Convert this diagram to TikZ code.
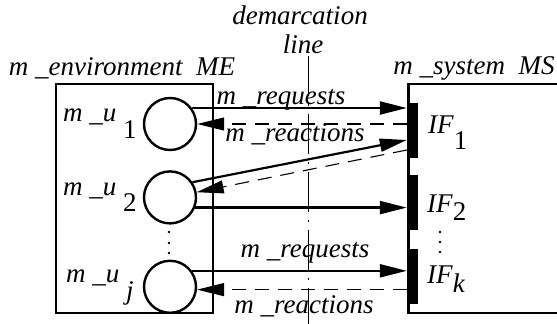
\documentclass[tikz,border=0pt]{standalone}
\usepackage{fontspec}
\setmainfont{Liberation Serif}
\usetikzlibrary{positioning}
\usetikzlibrary{arrows.meta}

\newcommand{\lowsub}[2][15pt]{\raisebox{-#1}{#2}}

\begin{document}
\begin{tikzpicture}[
    x=1pt, y=-1pt,
    font=\fontsize{27}{31}\selectfont\itshape,
    lbl/.style={inner sep=0pt, anchor=base},
    lblw/.style={inner sep=0pt, anchor=base west},
    unit/.style={circle, draw, line width=2.4pt, minimum size=52pt, inner sep=0pt},
    ifbar/.style={rectangle, fill=black, minimum width=11pt, minimum height=55pt, inner sep=0pt},
    boxline/.style={line width=2.8pt},
    req/.style={-{Triangle[length=27pt, width=13pt]}, line width=2.2pt},
    rea/.style={-{Triangle[length=27pt, width=13pt]}, line width=1.1pt, dash pattern=on 14pt off 9pt},
    demarc/.style={line width=0.9pt, dash pattern=on 40pt off 8pt on 2pt off 8pt}
]
\useasboundingbox (0,0) rectangle (557,324);

% Environment
\node[boxline, draw, minimum width=157pt, minimum height=229pt, inner sep=0pt] (me) at (134.5,198.5) {};
\node[lbl] (metitle) at (122,75) {m \_environment\ \ ME};

\node[unit] (u1) at (170,124) {};
\node[unit, below=19pt of u1] (u2) {};
\node[unit, below=35pt of u2] (uj) {};

\node[lblw] (lu1) at (63,121) {m \_u \lowsub[17pt]{\upshape 1}};
\node[lblw] (lu2) at (63,195) {m \_u \lowsub[16pt]{\upshape 2}};
\node[lblw] (luj) at (66,282) {m \_u \lowsub[17pt]{j}};
\foreach \k in {232,243,253}
    \fill (169,\k) circle (1.3pt);

% System
\coordinate (mstop) at (557,84);
\coordinate (mscorner) at (408.5,313);
\coordinate (msbot) at (557,313);
\draw[boxline] (mstop) -| (mscorner) -- (msbot);
\node[lbl] (mstitle) at (474,74) {m \_system\ \ MS};

\node[ifbar] (if1) at (412.5,130.5) {};
\node[ifbar, below=17pt of if1] (if2) {};
\node[ifbar, below=18pt of if2] (ifk) {};

\node[lblw] (lif1) at (428,133) {IF\/\lowsub[16pt]{\upshape 1}};
\node[lblw] (lif2) at (427,212) {IF\/\lowsub[8pt]{\upshape 2}};
\node[lblw] (lifk) at (427,283) {IF\/\lowsub[9pt]{k}};
\foreach \k in {232,242,252}
    \fill (440,\k) circle (1.3pt);

% Demarcation line
\node[lbl] (demtxt) at (300,24) {demarcation};
\node[lbl] (demline) at (303,53) {line};
\coordinate (demtop) at (308,56);
\coordinate (demend) at (308,324);
\draw[demarc] (demtop) -- (demend);

% Requests and reactions
\draw[req] (u1.36) -- (u1.36 -| if1.west);
\draw[rea] (u1.east -| if1.west) -- (u1.east);
\draw[req] (u2.34) -- ([yshift=-9.5pt]if1.west);
\draw[rea] ([yshift=-19.5pt]if1.west) -- (u2.11);
\draw[req] (u2.-22) -- (u2.-22 -| if2.west);
\draw[req] (uj.36) -- (uj.36 -| ifk.west);
\draw[rea] (uj.-6 -| ifk.west) -- (uj.-6);

\node[lbl] (req1) at (281,104) {m \_requests};
\node[lbl] (rea1) at (295,141) {m \_reactions};
\node[lbl] (req2) at (305,257) {m \_requests};
\node[lbl] (rea2) at (304,313) {m \_reactions};

\end{tikzpicture}
\end{document}
